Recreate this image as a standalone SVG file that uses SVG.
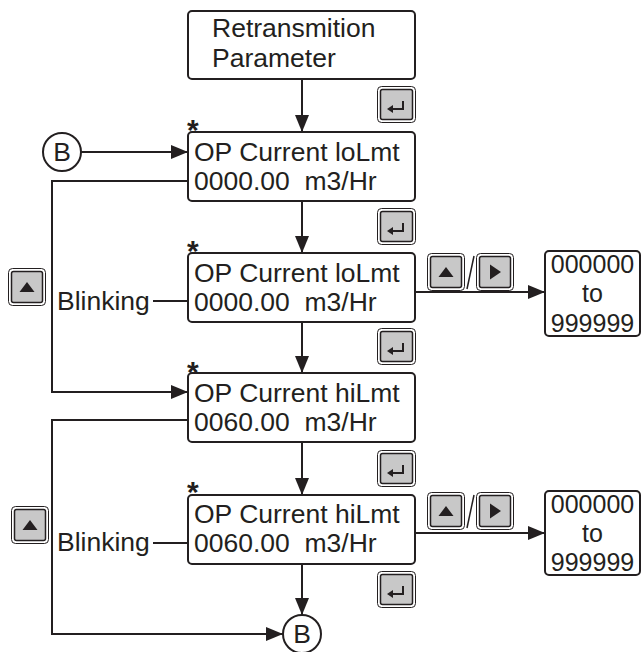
<svg xmlns="http://www.w3.org/2000/svg" xmlns:xlink="http://www.w3.org/1999/xlink" width="643" height="652" viewBox="0 0 643 652">
<style>
.box{fill:#fff;stroke:#231f20;stroke-width:2}
.t{font-family:"Liberation Sans",Arial,sans-serif;font-size:26.5px;fill:#231f20;white-space:pre}
.rt{font-family:"Liberation Sans",Arial,sans-serif;font-size:25px;fill:#231f20;text-anchor:middle}
.ast{font-family:"Liberation Sans",Arial,sans-serif;font-size:30px;font-weight:bold;fill:#231f20}
.ln{fill:none;stroke:#231f20;stroke-width:2}
.arr{fill:none;stroke:#231f20;stroke-width:2;marker-end:url(#ah)}
.bo{fill:#fff;stroke:#231f20;stroke-width:1}
.bi{fill:#c8c8c8;stroke:#231f20;stroke-width:1.5}
.g{fill:#231f20}
</style>
<defs>
<marker id="ah" markerUnits="userSpaceOnUse" markerWidth="17" markerHeight="14" refX="17" refY="7" orient="auto">
<path d="M0,0 L17,7 L0,14 z" fill="#231f20"/>
</marker>
<g id="btnEnter">
<rect class="bo" x="0.5" y="0.5" width="38" height="36" rx="4"/>
<rect class="bi" x="3.5" y="3.5" width="32" height="30" rx="2"/>
<path d="M26 15 V23 H15" fill="none" stroke="#231f20" stroke-width="2"/>
<path d="M10 23 L16 19 L16 27 z" class="g"/>
</g>
<g id="btnUp">
<rect class="bo" x="0.5" y="0.5" width="37" height="37" rx="4"/>
<rect class="bi" x="3.5" y="3.5" width="31" height="31" rx="2"/>
<path d="M11.5 24 L19 14 L26.5 24 z" class="g"/>
</g>
<g id="btnRight">
<rect class="bo" x="0.5" y="0.5" width="37" height="37" rx="4"/>
<rect class="bi" x="3.5" y="3.5" width="31" height="31" rx="2"/>
<path d="M14 11.5 L25 19 L14 26.5 z" class="g"/>
</g>
</defs>

<g id="connectors">
<line class="arr" x1="302" y1="79" x2="302" y2="132"/>
<line class="arr" x1="302" y1="201" x2="302" y2="253"/>
<line class="arr" x1="302" y1="322" x2="302" y2="373"/>
<line class="arr" x1="302" y1="442" x2="302" y2="495"/>
<line class="arr" x1="302" y1="564" x2="302" y2="615"/>
<line class="arr" x1="81" y1="152" x2="188" y2="152"/>
<polyline class="arr" points="188,181 52,181 52,392 188,392"/>
<polyline class="arr" points="188,420 52,420 52,634 283,634"/>
<line class="ln" x1="153" y1="301" x2="188" y2="301"/>
<line class="ln" x1="153" y1="543" x2="188" y2="543"/>
<line class="arr" x1="415" y1="292" x2="545" y2="292"/>
<line class="arr" x1="415" y1="533" x2="545" y2="533"/>
</g>

<g id="node-top">
<rect class="box" x="188" y="11" width="227" height="68" rx="4"/>
<text class="t" x="212" y="37">Retransmition</text>
<text class="t" x="212" y="67">Parameter</text>
</g>

<g id="node-lo">
<text class="ast" x="187" y="140">*</text>
<rect class="box" x="188" y="132" width="227" height="69" rx="4"/>
<text class="t" x="194" y="161">OP Current loLmt</text>
<text class="t" x="194" y="190" xml:space="preserve">0000.00  m3/Hr</text>
</g>

<g id="node-lo-edit">
<text class="ast" x="187" y="261">*</text>
<rect class="box" x="188" y="253" width="227" height="69" rx="4"/>
<text class="t" x="194" y="282">OP Current loLmt</text>
<text class="t" x="194" y="311" xml:space="preserve">0000.00  m3/Hr</text>
</g>

<g id="node-hi">
<text class="ast" x="187" y="382">*</text>
<rect class="box" x="188" y="373" width="227" height="69" rx="4"/>
<text class="t" x="194" y="402">OP Current hiLmt</text>
<text class="t" x="194" y="431" xml:space="preserve">0060.00  m3/Hr</text>
</g>

<g id="node-hi-edit">
<text class="ast" x="187" y="502">*</text>
<rect class="box" x="188" y="495" width="227" height="69" rx="4"/>
<text class="t" x="194" y="523">OP Current hiLmt</text>
<text class="t" x="194" y="552" xml:space="preserve">0060.00  m3/Hr</text>
</g>

<g id="node-range1">
<rect class="box" x="545" y="251" width="95" height="85" rx="4"/>
<text class="rt" x="592.5" y="273">000000</text>
<text class="rt" x="592.5" y="302">to</text>
<text class="rt" x="592.5" y="332">999999</text>
</g>

<g id="node-range2">
<rect class="box" x="545" y="491" width="95" height="84" rx="4"/>
<text class="rt" x="592.5" y="513">000000</text>
<text class="rt" x="592.5" y="542">to</text>
<text class="rt" x="592.5" y="571">999999</text>
</g>

<g id="node-B-top">
<circle class="box" cx="62" cy="152" r="19"/>
<text class="t" x="62" y="161" text-anchor="middle">B</text>
</g>

<g id="node-B-bottom">
<circle class="box" cx="302" cy="634" r="19"/>
<text class="t" x="302" y="643" text-anchor="middle">B</text>
</g>

<g id="label-blink1">
<text class="t" x="57" y="310">Blinking</text>
</g>
<g id="label-blink2">
<text class="t" x="57" y="551">Blinking</text>
</g>

<g id="buttons">
<use xlink:href="#btnEnter" x="377" y="86"/>
<use xlink:href="#btnEnter" x="377" y="208"/>
<use xlink:href="#btnEnter" x="377" y="328"/>
<use xlink:href="#btnEnter" x="377" y="450"/>
<use xlink:href="#btnEnter" x="377" y="571"/>
<use xlink:href="#btnUp" x="8" y="268"/>
<use xlink:href="#btnUp" x="11" y="506"/>
<use xlink:href="#btnUp" x="427" y="253"/>
<use xlink:href="#btnRight" x="476" y="253"/>
<line class="ln" x1="467" y1="289" x2="474" y2="256" style="stroke-width:1.5"/>
<use xlink:href="#btnUp" x="427" y="492"/>
<use xlink:href="#btnRight" x="476" y="492"/>
<line class="ln" x1="467" y1="528" x2="474" y2="495" style="stroke-width:1.5"/>
</g>
</svg>
